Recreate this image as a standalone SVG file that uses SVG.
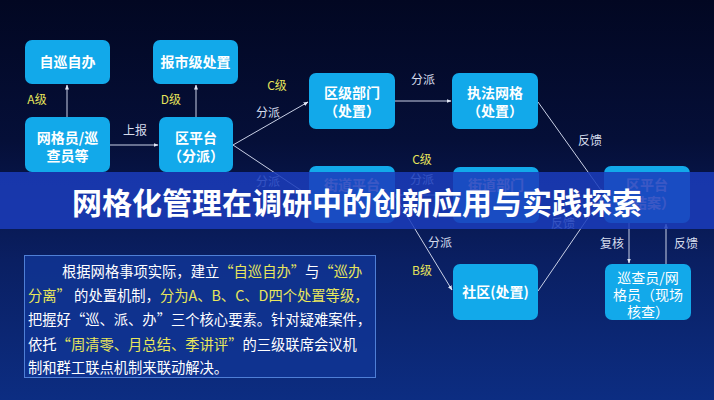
<svg xmlns="http://www.w3.org/2000/svg" width="714" height="400" viewBox="0 0 714 400">
<defs>
<linearGradient id="bg" x1="0" y1="0" x2="0" y2="1">
<stop offset="0" stop-color="#020722"/>
<stop offset="0.35" stop-color="#050f38"/>
<stop offset="0.65" stop-color="#0a1f62"/>
<stop offset="1" stop-color="#0c2d82"/>
</linearGradient>
<marker id="arr" viewBox="0 0 10 10" refX="9" refY="5" markerWidth="5" markerHeight="5" orient="auto-start-reverse">
<path d="M0,1 L10,5 L0,9 z" fill="#e0e6f5"/>
</marker>
<style>
.node rect{fill:#12a9ea;}
.nt{font-family:"Noto Sans CJK SC","Noto Sans",sans-serif;font-size:14px;font-weight:bold;fill:#ffffff;text-anchor:middle;}
.nt2{font-family:"Noto Sans CJK SC","Noto Sans",sans-serif;font-size:14px;fill:#ffffff;text-anchor:middle;}
.lbl{font-family:"Noto Sans CJK SC","Noto Sans",sans-serif;font-size:12px;fill:#d6dcec;text-anchor:middle;}
.lvl{font-family:"Noto Sans CJK SC","Noto Sans",sans-serif;font-size:12px;fill:#e6e45a;text-anchor:middle;}
.conn line{stroke:#c9d0e6;stroke-width:1;fill:none;marker-end:url(#arr);}
.para{font-family:"Noto Sans CJK SC","Noto Sans",sans-serif;font-size:14.3px;fill:#ffffff;}
.y{fill:#e8e65c;}
</style>
</defs>
<rect width="714" height="400" fill="url(#bg)"/>

<g id="connectors" class="conn">
<line x1="67" y1="117" x2="67" y2="85"/>
<line x1="110" y1="145" x2="158" y2="145"/>
<line x1="196" y1="117" x2="196" y2="85"/>
<line x1="233" y1="145" x2="308" y2="102"/>
<line x1="233" y1="145" x2="308" y2="195"/>
<line x1="395" y1="101" x2="451" y2="101"/>
<line x1="538" y1="102" x2="603" y2="193"/>
<line x1="395" y1="195" x2="452" y2="195"/>
<line x1="395" y1="196" x2="452" y2="290"/>
<line x1="538" y1="291" x2="603" y2="196"/>
<line x1="629" y1="223" x2="629" y2="263"/>
<line x1="666" y1="264" x2="666" y2="224"/>
</g>

<g id="labels">
<text class="lvl" x="37" y="104">A级</text>
<text class="lbl" x="135" y="135">上报</text>
<text class="lvl" x="171" y="104">D级</text>
<text class="lvl" x="277" y="90">C级</text>
<text class="lbl" x="268" y="117">分派</text>
<text class="lbl" x="423" y="84">分派</text>
<text class="lbl" x="590" y="145">反馈</text>
<text class="lvl" x="422" y="164">C级</text>
<text class="lbl" x="422" y="184">分派</text>
<text class="lbl" x="268" y="186">分派</text>
<text class="lbl" x="440" y="247">分派</text>
<text class="lvl" x="422" y="275">B级</text>
<text class="lbl" x="563" y="228">反馈</text>
<text class="lbl" x="612" y="248">复核</text>
<text class="lbl" x="686" y="248">反馈</text>
</g>

<g id="n-zixun" class="node"><rect x="25" y="40" width="85" height="44" rx="7"/><text class="nt" x="67.5" y="67">自巡自办</text></g>
<g id="n-baoshi" class="node"><rect x="153" y="40" width="85" height="44" rx="7"/><text class="nt" x="195.5" y="67">报市级处置</text></g>
<g id="n-wangge" class="node"><rect x="25" y="117" width="85" height="55" rx="7"/><text class="nt" x="67.5" y="143">网格员/巡</text><text class="nt" x="67.5" y="161">查员等</text></g>
<g id="n-qupingtai" class="node"><rect x="159" y="117" width="74" height="55" rx="7"/><text class="nt" x="196" y="143">区平台</text><text class="nt" x="196" y="161">（分派）</text></g>
<g id="n-qujibumen" class="node"><rect x="309" y="73" width="86" height="56" rx="7"/><text class="nt" x="352" y="98">区级部门</text><text class="nt" x="352" y="116">（处置）</text></g>
<g id="n-zhifa" class="node"><rect x="452" y="73" width="86" height="56" rx="7"/><text class="nt" x="495" y="98">执法网格</text><text class="nt" x="495" y="116">（处置）</text></g>
<g id="n-jiedaopt" class="node"><rect x="309" y="166" width="86" height="57" rx="7"/><text class="nt" x="352" y="190">街道平台</text></g>
<g id="n-jiedaobm" class="node"><rect x="453" y="167" width="86" height="56" rx="7"/><text class="nt" x="496" y="190">街道部门</text></g>
<g id="n-jiean" class="node"><rect x="604" y="166" width="86" height="57" rx="7"/><text class="nt" x="647" y="190">区平台</text><text class="nt" x="647" y="208">（结案）</text></g>
<g id="n-shequ" class="node"><rect x="453" y="264" width="85" height="56" rx="7"/><text class="nt" x="495.5" y="297">社区(处置)</text></g>
<g id="n-xuncha" class="node"><rect x="605" y="264" width="86" height="56" rx="7"/><text class="nt2" x="648" y="283">巡查员/网</text><text class="nt2" x="648" y="300">格员（现场</text><text class="nt2" x="648" y="317">核查）</text></g>

<g id="banner">
<rect x="0" y="172" width="714" height="57" fill="#1b3cbc" fill-opacity="0.86"/>
<text x="357" y="214" font-family="'Noto Sans CJK SC','Noto Sans',sans-serif" font-size="30" font-weight="bold" fill="#ffffff" text-anchor="middle">网格化管理在调研中的创新应用与实践探索</text>
</g>

<g id="textbox">
<rect x="24.5" y="255.5" width="351" height="122" fill="#113594" fill-opacity="0.85" stroke="#4f7fd6" stroke-width="1"/>
<text class="para" x="62" y="277">根据网格事项实际，建立<tspan class="y">“自巡自办”</tspan>与<tspan class="y">“巡办</tspan></text>
<text class="para" x="28" y="301"><tspan class="y">分离”</tspan> 的处置机制，<tspan class="y">分为A、B、C、D四个处置等级，</tspan></text>
<text class="para" x="28" y="325">把握好“巡、派、办”三个核心要素。针对疑难案件，</text>
<text class="para" x="28" y="350">依托<tspan class="y">“周清零、月总结、季讲评”</tspan>的三级联席会议机</text>
<text class="para" x="28" y="373">制和群工联点机制来联动解决。</text>
</g>
</svg>
